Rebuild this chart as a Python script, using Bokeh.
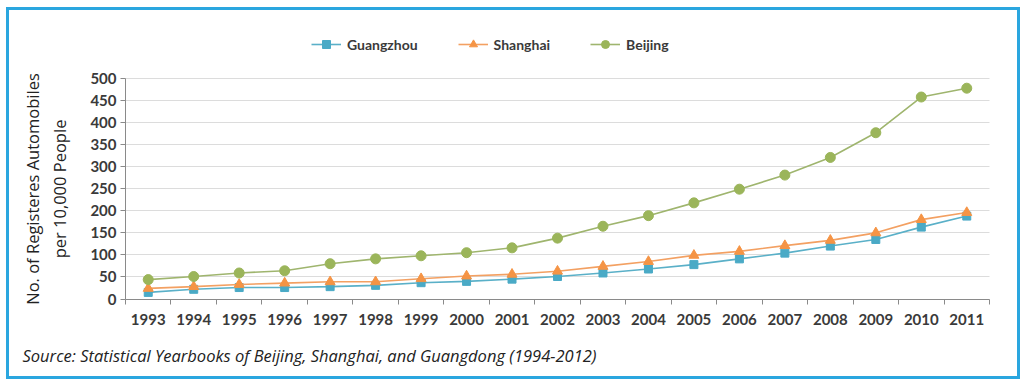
from bokeh.plotting import figure
from bokeh.models import FixedTicker, Legend, LegendItem, Label, Range1d
from bokeh.embed import file_html
from bokeh.resources import INLINE

years = list(range(1993, 2012))
guangzhou = [15, 22, 26, 26, 28, 31, 37, 40, 45, 51, 59, 68, 78, 91, 104, 120, 135, 163, 188]
shanghai = [24, 28, 33, 36, 39, 39, 46, 52, 56, 63, 74, 85, 99, 108, 121, 133, 150, 180, 196]
beijing = [44, 51, 59, 64, 80, 91, 98, 105, 116, 138, 165, 189, 218, 249, 281, 321, 377, 458, 478]
y_ticks = list(range(0, 501, 50))
series_names = ["Guangzhou", "Shanghai", "Beijing"]
y_title = "No. of Registeres Automobiles\nper 10,000 People"
source_text = "Source: Statistical Yearbooks of Beijing, Shanghai, and Guangdong (1994-2012)"

TICK_FONT = "Lato"
TEXT_COL = "#3a3a3a"

# figure size and the drawing-canvas size that results from it (border adds 6px)
W, H = 1008, 366
CW, CH = W + 6, H + 6
AX_LEFT, AX_RIGHT = 116, 980      # pixel x of plot-area left / right edge
AX_TOP, AX_BOTTOM = 68, 288.5     # pixel y of value 500 / value 0

x0, x1 = years[0] - 0.5, years[-1] + 0.5
y0, y1 = y_ticks[0], y_ticks[-1]
xs = (AX_RIGHT - AX_LEFT) / (x1 - x0)
ys = (AX_BOTTOM - AX_TOP) / (y1 - y0)
x_range = Range1d(x0 - AX_LEFT / xs, x1 + (CW - AX_RIGHT) / xs)
y_range = Range1d(y0 - (CH - AX_BOTTOM) / ys, y1 + AX_TOP / ys)

p = figure(width=W, height=H, output_backend="svg", toolbar_location=None,
           x_range=x_range, y_range=y_range,
           min_border_left=0, min_border_right=0, min_border_top=0, min_border_bottom=0)
p.styles = {"border": "3px solid #2aa6df", "box-sizing": "content-box",
            "position": "relative", "left": "6px", "top": "7px"}
p.outline_line_color = None
p.background_fill_color = "white"
p.border_fill_color = "white"

# grid
p.xgrid.grid_line_color = None
p.ygrid.grid_line_color = "#dcdcdc"
p.ygrid.grid_line_width = 1
p.ygrid.bounds = (y0, y1)
try:
    p.ygrid.cross_bounds = (x0, x1)
except Exception:
    p.ygrid.grid_line_color = None
    gy = y_ticks[1:]
    p.segment(x0=[x0] * len(gy), x1=[x1] * len(gy), y0=gy, y1=gy,
              line_color="#dcdcdc", line_width=1)

# y axis
p.yaxis.fixed_location = x0
p.yaxis.bounds = (y0, y1)
p.yaxis.ticker = FixedTicker(ticks=y_ticks)
p.yaxis.axis_line_color = "#8a8a8a"
p.yaxis.major_tick_line_color = "#8a8a8a"
p.yaxis.major_tick_out = 5
p.yaxis.major_tick_in = 0
p.yaxis.minor_tick_line_color = None
p.yaxis.major_label_text_font = TICK_FONT
p.yaxis.major_label_text_font_style = "bold"
p.yaxis.major_label_text_font_size = "15px"
p.yaxis.major_label_text_color = TEXT_COL
p.yaxis.major_label_standoff = 4
p.yaxis.axis_label = y_title
p.yaxis.axis_label_text_font = "Open Sans"
p.yaxis.axis_label_text_font_style = "normal"
p.yaxis.axis_label_text_font_size = "16.5px"
p.yaxis.axis_label_text_color = "#222222"
p.yaxis.axis_label_standoff = 16

# x axis: labels at years, ticks between categories
bounds = [y - 0.5 for y in years] + [years[-1] + 0.5]
p.xaxis.fixed_location = y0
p.xaxis.bounds = (x0, x1)
p.xaxis.ticker = FixedTicker(ticks=years, minor_ticks=bounds)
p.xaxis.axis_line_color = "#8a8a8a"
p.xaxis.major_tick_line_color = None
p.xaxis.major_tick_out = 5
p.xaxis.major_tick_in = 0
p.xaxis.minor_tick_line_color = "#8a8a8a"
p.xaxis.minor_tick_out = 5
p.xaxis.minor_tick_in = 0
p.xaxis.major_label_text_font = TICK_FONT
p.xaxis.major_label_text_font_style = "bold"
p.xaxis.major_label_text_font_size = "15px"
p.xaxis.major_label_text_color = TEXT_COL
p.xaxis.major_label_standoff = 10

colors = ["#4aaac6", "#f59445", "#9bb55a"]
line_colors = ["#5ab0c8", "#f3a062", "#9fb56e"]
data = [guangzhou, shanghai, beijing]
markers = ["square", "triangle", "circle"]
sizes = [8, 10, 10]

items = []
for name, vals, col, lcol, mk, sz in zip(series_names, data, colors, line_colors, markers, sizes):
    ln = p.line(years, vals, line_color=lcol, line_width=1.6)
    sc = p.scatter(years, vals, marker=mk, size=sz, fill_color=col, line_color=col)
    items.append(LegendItem(label=name, renderers=[ln, sc]))

legend = Legend(items=items, orientation="horizontal", location=(302, CH - 44),
                glyph_width=30, glyph_height=20, label_height=20, label_standoff=6,
                spacing=40, padding=0, margin=0, border_line_color=None,
                background_fill_alpha=0,
                label_text_font=TICK_FONT, label_text_font_style="bold",
                label_text_font_size="14px", label_text_color=TEXT_COL)
p.add_layout(legend, "center")

src = Label(x=13, y=CH - 345, x_units="screen", y_units="screen", text=source_text,
            text_font="Open Sans", text_font_style="italic", text_font_size="16.5px",
            text_color="#222222", text_baseline="middle", text_align="left")
p.add_layout(src)

open("out.html", "w").write(file_html(p, INLINE))
